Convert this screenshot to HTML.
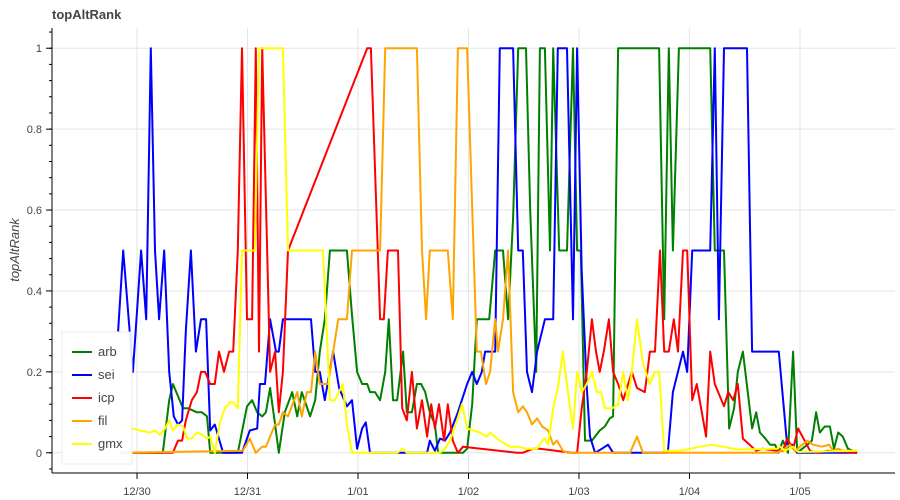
<!DOCTYPE html>
<html><head><meta charset="utf-8"><style>
body{margin:0;background:#fff;}
svg{display:block;font-family:"Liberation Sans",Arial,sans-serif;}
</style></head><body>
<svg id="chart" width="900" height="500" xmlns="http://www.w3.org/2000/svg">
<text x="52" y="19" font-size="13" font-weight="bold" fill="#444">topAltRank</text>
<text transform="translate(19,250) rotate(-90)" text-anchor="middle" font-size="13" font-style="italic" fill="#444">topAltRank</text>
<g id="grid"></g>
<g id="series"></g>
<g id="axes"></g>
<g id="legend"></g>
</svg>
<script>
// hours since 12/30 00:00, and value
const xTickLabels = ["12/30","12/31","1/01","1/02","1/03","1/04","1/05"];
const yTickValues = [0,0.2,0.4,0.6,0.8,1];
const yTickLabels = ["0","0.2","0.4","0.6","0.8","1"];
const seriesNames = ["arb","sei","icp","fil","gmx"];
const seriesColors = ["green","blue","red","orange","yellow"];

const arbT = [-3.9,5.6,7.0,7.8,8.9,10.0,11.1,13.0,14.1,15.2,15.9,21.9,23.9,25.0,26.1,27.2,28.0,28.9,30.0,30.8,32.1,33.7,34.8,35.8,37.6,38.7,39.7,40.8,41.9,45.6,46.7,47.8,48.9,50.0,50.6,51.7,52.8,53.9,54.7,55.6,56.5,57.8,58.6,59.7,60.8,61.7,62.6,63.6,64.7,65.4,70.8,71.7,72.8,73.8,76.5,77.8,79.5,80.6,81.7,82.8,84.5,85.4,86.7,87.5,88.6,89.7,90.4,91.7,93.4,94.7,95.6,96.4,97.3,98.8,100.5,101.6,102.7,103.4,104.5,113.4,114.5,115.5,116.4,117.7,124.5,125.5,127.5,128.6,129.7,130.5,131.6,133.6,134.5,135.3,136.5,137.5,138.6,139.3,140.3,141.4,142.5,143.4,145.6,146.6,147.5,148.3,149.4,150.5,151.4,152.3,153.3,154.4,156.4];
const arbV = [0,0,0.13,0.17,0.14,0.11,0.11,0.10,0.10,0.09,0,0,0.115,0.13,0.10,0.09,0.10,0.16,0.07,0,0.10,0.15,0.09,0.15,0.09,0.13,0.25,0.33,0.5,0.5,0.34,0.2,0.17,0.17,0.15,0.15,0.13,0.2,0.33,0.13,0.13,0.25,0.10,0.10,0.17,0.17,0.15,0.10,0.07,0,0,0.01,0.12,0.33,0.33,0.5,0.5,0.33,0.58,1,1,0.6,0.2,1,1,0.5,1,0.5,0.5,1,0.5,0.5,0.03,0.03,0.055,0.065,0.085,0.09,1,1,0.33,1,0.5,1,1,0.5,0.5,0.06,0.11,0.2,0.25,0.06,0.10,0.05,0.035,0.02,0.02,0,0.03,0,0.25,0,0.02,0.03,0.10,0.05,0.065,0.065,0.01,0.05,0.04,0.01,0];

const seiT = [-4.1,-3.0,-0.9,0.9,2.0,3.0,3.9,4.8,5.9,7.0,8.0,8.9,9.8,10.6,11.7,12.8,13.9,15.0,15.9,16.9,18.7,22.8,24.5,26.1,26.7,27.8,28.9,30.2,30.8,31.7,37.8,38.7,39.7,40.8,42.6,43.9,45.6,46.7,47.8,48.9,49.7,50.6,63.0,63.6,64.7,65.8,66.9,68.0,69.7,71.7,72.8,73.8,74.9,75.6,77.8,78.8,81.7,82.8,83.8,84.7,85.8,86.9,88.6,90.4,91.4,93.4,94.7,95.6,96.6,97.7,98.4,99.5,101.0,102.3,103.4,115.3,116.4,118.6,119.5,120.6,124.5,125.5,126.4,127.5,132.5,133.6,139.4,141.2,142.3,143.4,156.4];
const seiV = [0.30,0.50,0.20,0.50,0.33,1,0.5,0.33,0.5,0.2,0.09,0.07,0.08,0.30,0.5,0.25,0.33,0.33,0.055,0.07,0,0,0.055,0.06,0.17,0.17,0.33,0.25,0.25,0.33,0.33,0.2,0.2,0.13,0.25,0.16,0.115,0.13,0.01,0.06,0.075,0,0,0.03,0.005,0.035,0.03,0.05,0.10,0.17,0.2,0.17,0.2,0.25,0.25,1,1,0.5,0.5,0.2,0.15,0.25,0.33,0.33,1,1,0.33,1,0.45,0.16,0.04,0,0.01,0.02,0,0,0.15,0.25,0.2,0.5,0.5,1,0.33,1,1,0.25,0.25,0.02,0.02,0,0];

const icpT = [-3.9,7.8,8.9,9.8,10.6,11.9,13.0,13.9,14.8,15.9,16.9,17.8,18.9,20.0,20.9,21.9,22.8,23.9,25.0,25.8,26.5,27.2,28.9,30.0,30.8,31.7,32.8,50.0,50.8,52.8,53.6,54.5,56.7,57.6,58.6,59.7,60.8,61.9,63.0,63.9,64.7,65.6,66.7,67.5,68.6,69.7,70.8,82.5,83.8,86.0,87.5,94.4,95.6,96.6,97.7,98.8,99.7,100.5,101.4,102.5,103.4,104.5,105.6,106.4,107.5,108.6,110.3,111.4,112.5,113.6,114.5,115.5,116.6,117.5,118.6,119.5,120.6,121.6,123.6,124.5,125.5,127.5,128.4,129.5,130.5,131.6,134.5,135.8,139.0,140.3,141.2,142.5,143.6,146.2,147.7,149.9,156.4];
const icpV = [0,0,0.03,0.03,0.08,0.13,0.15,0.2,0.2,0.17,0.17,0.25,0.2,0.25,0.25,0.5,1,0.33,0.33,1,0.25,1,0.2,0.25,0.1,0.2,0.5,1,1,0.33,0.33,0.5,0.5,0.11,0.08,0.2,0.06,0.13,0.04,0.12,0.06,0.12,0.03,0.12,0.03,0,0.015,0,0,0.01,0.01,0,0,0.11,0.2,0.33,0.25,0.2,0.25,0.33,0.2,0.17,0.13,0.16,0.2,0.16,0.15,0.25,0.25,0.5,0.25,0.25,0.33,0.25,0.5,0.5,0.13,0.17,0.04,0.25,0.17,0.115,0.15,0.13,0.17,0.035,0.005,0.01,0.005,0.005,0.035,0.01,0.06,0.005,0,0.005,0,0];

const filT = [-3.9,23.0,24.5,25.8,27.2,28.0,30.0,30.8,31.7,32.8,34.8,35.8,36.9,37.8,38.7,39.7,41.5,43.7,45.6,46.7,52.8,53.9,60.8,61.9,62.8,63.6,67.5,68.6,69.7,71.7,73.8,74.7,75.8,76.7,77.8,78.4,79.5,80.6,81.7,82.8,83.8,84.7,85.8,86.9,88.0,89.3,90.4,91.2,92.5,93.6,107.1,108.6,109.9,139.0,140.7,141.8,142.9,144.5,145.6,146.8,148.8,150.3,151.2,152.3,153.3,156.4];
const filV = [0,0.005,0.035,0,0.015,0.015,0.07,0.07,0.10,0.09,0.15,0.09,0.15,0.15,0.25,0.17,0.17,0.33,0.33,0.5,0.5,1,1,0.5,0.33,0.5,0.5,0.33,1,1,0.25,0.25,0.17,0.2,0.33,0.25,0.33,0.5,0.15,0.10,0.115,0.10,0.07,0.085,0.065,0.055,0.02,0.03,0.005,0,0,0.04,0,0,0.01,0.02,0.005,0.02,0.03,0.02,0.015,0.02,0.005,0.01,0.005,0.005];

const gmxT = [-3.9,-0.9,0.7,2.8,3.9,5.0,6.1,7.0,7.8,8.9,10.0,10.9,11.9,13.0,14.1,15.2,15.9,16.9,18.0,19.1,20.2,20.9,21.9,22.8,25.6,26.5,27.2,31.7,32.8,40.4,41.9,43.0,44.7,45.6,46.7,56.5,57.1,57.8,58.6,65.8,66.9,68.0,69.5,70.6,71.7,73.0,74.5,76.0,76.7,78.2,79.5,81.0,82.5,84.7,86.4,86.9,88.0,88.6,89.3,90.4,91.4,92.5,93.6,94.7,95.6,96.6,97.7,98.8,99.9,100.8,101.6,103.2,104.5,105.6,106.6,107.5,108.6,109.9,111.4,112.5,113.4,114.5,117.9,124.5,127.3,130.3,139.0,139.7,140.7,142.5,143.6,156.4];
const gmxV = [0.07,0.06,0.055,0.05,0.055,0.045,0.06,0.08,0.055,0.07,0.065,0.035,0.035,0.05,0.045,0.035,0.04,0,0.075,0.11,0.125,0.125,0.11,0.5,0.5,1,1,1,0.5,0.5,0.13,0.13,0.17,0.07,0,0,0.005,0.01,0,0,0.01,0.03,0.08,0.12,0.06,0.055,0.05,0.04,0.05,0.035,0.025,0.015,0.015,0.01,0.01,0.01,0.03,0.035,0.02,0.11,0.16,0.25,0.15,0.06,0.2,0.15,0.17,0.2,0.15,0.15,0.11,0.11,0.12,0.2,0.13,0.2,0.33,0.22,0.17,0.2,0.2,0.005,0.005,0.02,0.015,0.008,0.01,0.015,0.005,0.015,0.002,0.005];

const NS = "http://www.w3.org/2000/svg";
const plotLeft = 52, plotRight = 895, plotTop = 28, plotBottom = 473;
const x0 = 137, pxPerHour = 4.604;
const yMin = -0.05, yMax = 1.05;
function xScale(h){ return x0 + h * pxPerHour; }
function yScale(v){ return plotBottom - (v - yMin) / (yMax - yMin) * (plotBottom - plotTop); }
function mk(tag, attrs, parent){ const e = document.createElementNS(NS, tag); for (const k in attrs) e.setAttribute(k, attrs[k]); parent.appendChild(e); return e; }

const gridG = document.getElementById('grid');
const axesG = document.getElementById('axes');
const seriesG = document.getElementById('series');
const legendG = document.getElementById('legend');

yTickValues.forEach((v, i) => {
  const y = yScale(v);
  const g = mk('line', {x1: plotLeft, x2: plotRight, y1: y, y2: y, stroke: '#e5e5e5', 'stroke-width': 1}, gridG);
  
  
  const t = mk('line', {x1: plotLeft - 6, x2: plotLeft, y1: y, y2: y, stroke: '#000', 'stroke-width': 1}, axesG);
  
  
  const lb = mk('text', {x: plotLeft - 10, y: y + 4, 'text-anchor': 'end', 'font-size': 11, fill: '#444'}, axesG);
  lb.textContent = yTickLabels[i];
  
  
});
for (let k = -1; k <= 26; k++) {
  const y = yScale(k * 0.04);
  const t = mk('line', {x1: plotLeft - 3, x2: plotLeft, y1: y, y2: y, stroke: '#000', 'stroke-width': 1}, axesG);
  
  
}
xTickLabels.forEach((lab, i) => {
  const x = xScale(i * 24);
  const g = mk('line', {x1: x, x2: x, y1: plotTop, y2: plotBottom, stroke: '#e5e5e5', 'stroke-width': 1}, gridG);
  
  
  const t = mk('line', {x1: x, x2: x, y1: plotBottom, y2: plotBottom + 6, stroke: '#000', 'stroke-width': 1}, axesG);
  
  
  const lb = mk('text', {x: x, y: plotBottom + 22, 'text-anchor': 'middle', 'font-size': 11, fill: '#444'}, axesG);
  lb.textContent = lab;
  
  
});
const ya = mk('line', {x1: plotLeft, x2: plotLeft, y1: plotTop, y2: plotBottom, stroke: '#000', 'stroke-width': 1}, axesG);


const xa = mk('line', {x1: plotLeft, x2: plotRight, y1: plotBottom, y2: plotBottom, stroke: '#000', 'stroke-width': 1}, axesG);



const allT = [arbT, seiT, icpT, filT, gmxT];
const allV = [arbV, seiV, icpV, filV, gmxV];
seriesNames.forEach((n, i) => {
  const T = allT[i], V = allV[i];
  const pts = [];
  for (let j = 0; j < T.length; j++) {
    if (V[j] === undefined) continue;
    pts.push(xScale(T[j]).toFixed(1) + ',' + yScale(V[j]).toFixed(1));
  }
  const p = mk('polyline', {points: pts.join(' '), fill: 'none', stroke: seriesColors[i], 'stroke-width': 2, 'stroke-linejoin': 'round'}, seriesG);
  
  
});

const box = mk('rect', {x: 62, y: 332, width: 70, height: 132, fill: 'rgba(255,255,255,0.9)', stroke: '#ebebeb', 'stroke-width': 1}, legendG);


seriesNames.forEach((n, i) => {
  const y = 352 + i * 23;
  const g = mk('g', {}, legendG);
  
  
  mk('line', {x1: 72, x2: 92, y1: y, y2: y, stroke: seriesColors[i], 'stroke-width': 2}, g);
  const t = mk('text', {x: 98, y: y + 4, 'font-size': 13, fill: '#444'}, g);
  t.textContent = n;
});
</script>
</body></html>
